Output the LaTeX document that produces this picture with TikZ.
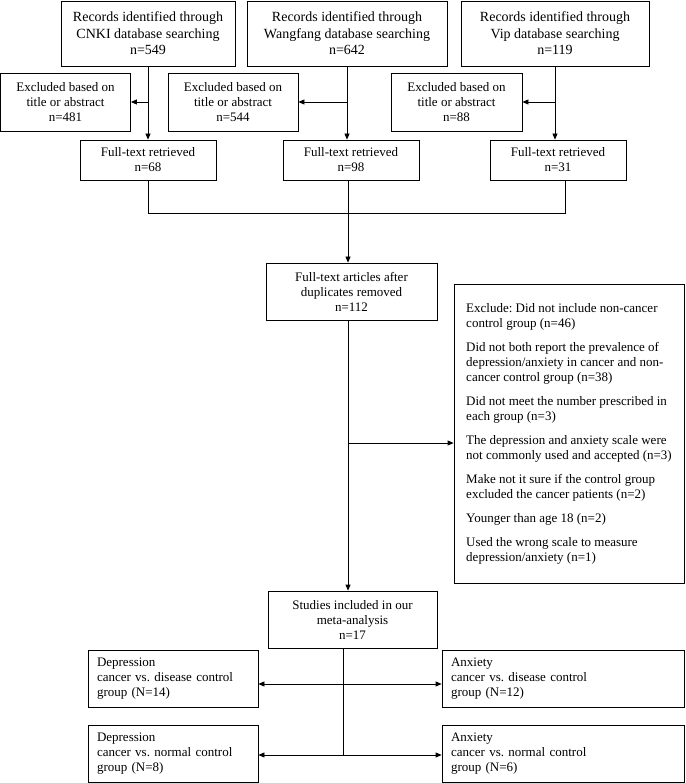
\documentclass[tikz,border=0pt]{standalone}
\usepackage{fontspec}
\setmainfont{Liberation Serif}
\usetikzlibrary{arrows.meta}
\frenchspacing
\begin{document}
\begin{tikzpicture}[x=1pt,y=-1pt,
  box/.style={draw, line width=0.8pt, inner sep=0pt, align=center, font=\fontsize{13}{15}\selectfont},
  topbox/.style={box, font=\fontsize{14}{16.5}\selectfont},
  lbox/.style={box, align=left, inner xsep=9pt},
  arr/.style={-{Triangle[length=6pt,width=5pt]}, line width=0.8pt},
  darr/.style={{Triangle[length=6pt,width=5pt]}-{Triangle[length=6pt,width=5pt]}, line width=0.8pt},
  ln/.style={line width=0.8pt}]
\useasboundingbox (0,0) rectangle (685,783);
% top row
\node[topbox, minimum width=174pt, minimum height=65pt] (cnki) at (148,33.5) {Records identified through\\CNKI database searching\\n=549};
\node[topbox, minimum width=200pt, minimum height=65pt] (wang) at (347,33.5) {Records identified through\\Wangfang database searching\\n=642};
\node[topbox, minimum width=188pt, minimum height=65pt] (vip) at (555,33.5) {Records identified through\\Vip database searching\\n=119};
% excluded
\node[box, minimum width=130pt, minimum height=58pt] (exc1) at (65.5,102) {Excluded based on\\title or abstract\\n=481};
\node[box, minimum width=130pt, minimum height=58pt] (exc2) at (233,102) {Excluded based on\\title or abstract\\n=544};
\node[box, minimum width=131pt, minimum height=58pt] (exc3) at (456.5,102) {Excluded based on\\title or abstract\\n=88};
% full-text
\node[box, minimum width=136pt, minimum height=40pt] (ft1) at (148,160) {Full-text retrieved\\n=68};
\node[box, minimum width=136pt, minimum height=40pt] (ft2) at (351,160) {Full-text retrieved\\n=98};
\node[box, minimum width=136pt, minimum height=40pt] (ft3) at (558,160) {Full-text retrieved\\n=31};
% middle
\node[box, minimum width=171pt, minimum height=57pt] (dup) at (351.5,291.5) {Full-text articles after\\duplicates removed\\n=112};
\node[lbox, minimum width=230pt, minimum height=299pt] (excl) at (569,433.5) {Exclude: Did not include non-cancer\\control group (n=46)\\[9pt]
Did not both report the prevalence of\\depression/anxiety in cancer and non-\\cancer control group (n=38)\\[9pt]
Did not meet the number prescribed in\\each group (n=3)\\[9pt]
The depression and anxiety scale were\\not commonly used and accepted (n=3)\\[9pt]
Make not it sure if the control group\\excluded the cancer patients (n=2)\\[9pt]
Younger than age 18 (n=2)\\[9pt]
Used the wrong scale to measure\\depression/anxiety (n=1)};
\node[box, minimum width=169pt, minimum height=57pt] (stud) at (352.5,619.5) {Studies included in our\\meta-analysis\\n=17};
% bottom
\node[lbox, text width=152pt, minimum height=57pt] (dep1) at (173,678.5) {Depression\\cancer vs. disease control\\group (N=14)};
\node[lbox, text width=224pt, minimum height=57pt] (anx1) at (563,678.5) {Anxiety\\cancer vs. disease control\\group (N=12)};
\node[lbox, text width=152pt, minimum height=57pt] (dep2) at (173,753.5) {Depression\\cancer vs. normal control\\group (N=8)};
\node[lbox, text width=224pt, minimum height=57pt] (anx2) at (563,753.5) {Anxiety\\cancer vs. normal control\\group (N=6)};
% connectors top
\draw[arr] (cnki.south) -- (cnki.south |- ft1.north);
\draw[arr] (cnki.south |- exc1.east) -- (exc1.east);
\draw[arr] (wang.south) -- (wang.south |- ft2.north);
\draw[arr] (wang.south |- exc2.east) -- (exc2.east);
\draw[arr] (vip.south) -- (vip.south |- ft3.north);
\draw[arr] (vip.south |- exc3.east) -- (exc3.east);
% merge
\coordinate (mrg) at (348,213);
\draw[ln] (ft1.south) |- (mrg);
\draw[ln] (mrg) -| ([xshift=7pt]ft3.south);
\draw[ln] (ft2.south -| mrg) -- (mrg);
\draw[arr] (mrg) -- (mrg |- dup.north);
\coordinate (br) at (348,443);
\draw[arr] (dup.south -| mrg) -- (mrg |- stud.north);
\draw[arr] (br) -- (br -| excl.west);
% bottom
\coordinate (s1) at (343,684);
\coordinate (s2) at (343,755);
\draw[ln] (stud.south -| s1) -- (s2);
\draw[darr] (dep1.east |- s1) -- (anx1.west |- s1);
\draw[darr] (dep2.east |- s2) -- (anx2.west |- s2);
\end{tikzpicture}
\end{document}
